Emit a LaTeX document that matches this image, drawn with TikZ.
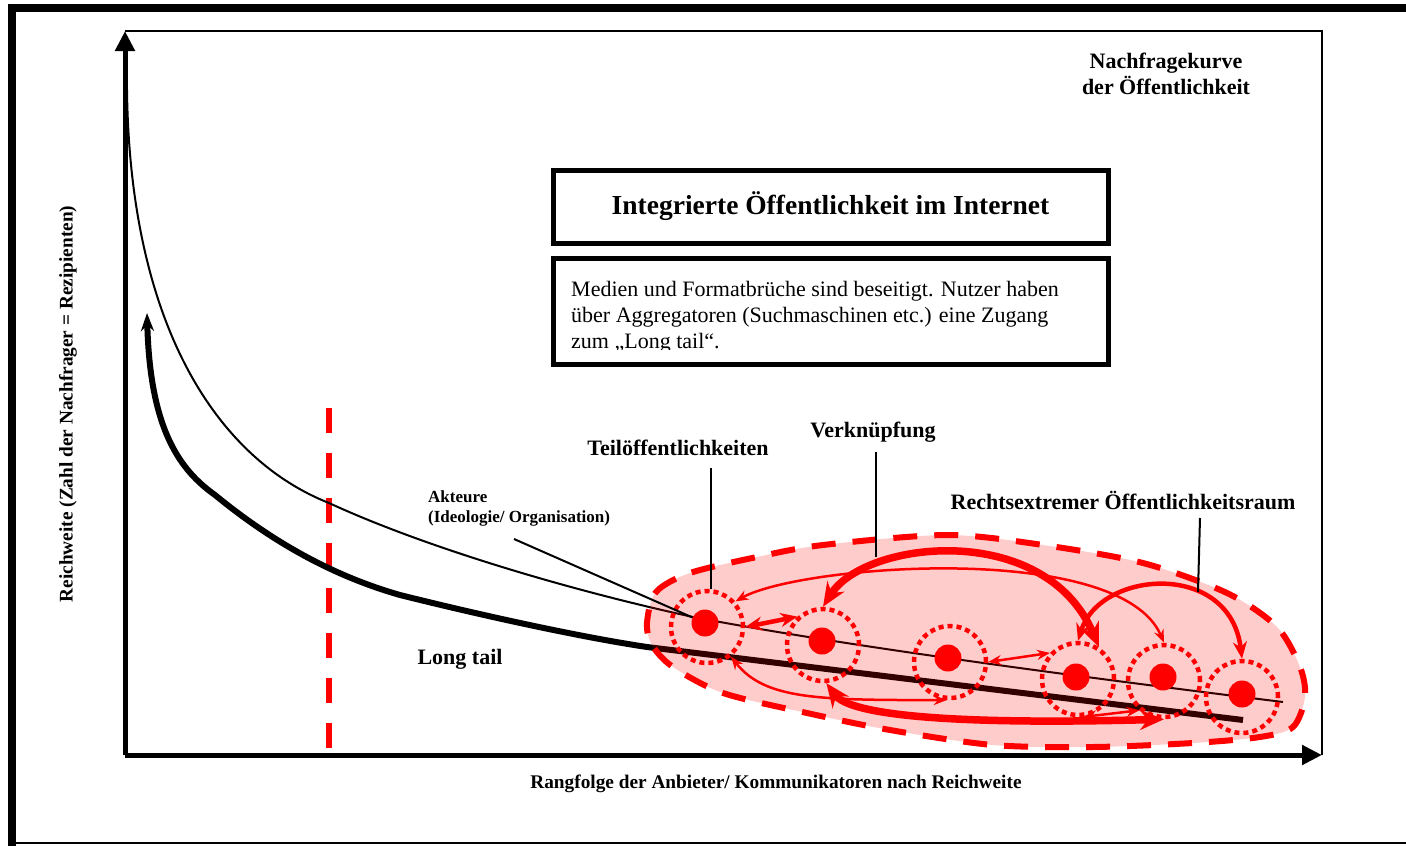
\documentclass[tikz,border=0pt]{standalone}
\usepackage{fontspec}
\setmainfont{Liberation Serif}
\usetikzlibrary{arrows.meta}
\tikzset{
  axisline/.style={line width=5pt, -{Triangle[length=20pt,width=19pt]}},
  plotframe/.style={line width=2pt},
  demand/.style={line width=2pt},
  tailcurve/.style={line width=6pt, {Stealth[length=18pt,width=13pt]}-},
  cutline/.style={red, line width=6.5pt, dash pattern=on 25pt off 20pt},
  blobline/.style={red, line width=6pt, dash pattern=on 24pt off 17pt, fill=red, fill opacity=0.2},
  reddot/.style={circle, fill=red, inner sep=0pt, minimum size=27pt},
  dotring/.style={circle, draw=red, line width=4.5pt, dash pattern=on 5pt off 4pt, inner sep=0pt, minimum size=72pt},
  thinlink/.style={red, line width=2.5pt, {Stealth[length=13pt,width=10pt]}-{Stealth[length=13pt,width=10pt]}},
  midlink/.style={red, line width=4.5pt, {Stealth[length=17pt,width=14pt]}-{Stealth[length=17pt,width=14pt]}},
  thicklink/.style={red, line width=7.5pt, {Stealth[length=24pt,width=20pt]}-{Stealth[length=24pt,width=20pt]}},
  pointer/.style={line width=2pt},
  boxline/.style={line width=5pt},
  boxtitle/.style={font=\fontsize{27.5}{33}\selectfont\bfseries},
  boxtext/.style={font=\fontsize{22}{26}\selectfont, align=left, inner sep=0pt},
  cornertitle/.style={font=\fontsize{22}{26}\selectfont\bfseries, align=center},
  annot/.style={font=\fontsize{22}{26}\selectfont\bfseries},
  smallannot/.style={font=\fontsize{17}{20}\selectfont\bfseries, align=left, inner sep=0pt},
  axlabel/.style={font=\fontsize{19.3}{23}\selectfont\bfseries},
}

\begin{document}
\begin{tikzpicture}[x=1pt, y=-1pt]
		%%%%% START %%%%%
		\useasboundingbox (0,0) rectangle (1406,846);
		
		\draw[line width=8pt] (12,846) -- (12,8) -- (1406,8);
		\draw[line width=2pt] (12,843) -- (1406,843);
		
		\coordinate (O) at (125,755);
		\coordinate (ytop) at (125,31);
		\coordinate (xend) at (1322,755);
		\draw[plotframe] (ytop) -- (xend |- ytop) -- (xend);
		\draw[axisline] (O) -- (ytop);
		\draw[axisline] (O) -- (xend);
		
		\draw[cutline] (329,408) -- (329,750);
		
		% Nachfragekurve and long tail
		\draw[demand] (127,90) .. controls (130,330) and (220,460) .. (329,503)
			.. controls (420,545) and (560,588) .. (693,617)
			.. controls (820,641) and (1000,667) .. (1283,702);
		\draw[tailcurve] (147,313) .. controls (150,430) and (180,470) .. (215,495)
			.. controls (270,540) and (330,575) .. (400,595)
			.. controls (480,615) and (580,637) .. (647,647) -- (1243,720);
		
		\draw[blobline] plot[smooth cycle] coordinates {(647,623) (656,592) (690,573) (757,557) (823,545) (947,535) (1043,545) (1143,563) (1227,593) (1277,627) (1300,667) (1305,697) (1293,727) (1260,737) (1193,743) (1093,747) (993,745) (890,730) (807,713) (723,693) (673,667) (652,645)};
		
		\node[dotring] (r1) at (707,627) {};
		\node[dotring] (r2) at (823,645) {};
		\node[dotring] (r3) at (950,662) {};
		\node[dotring] (r4) at (1078,679) {};
		\node[dotring] (r5) at (1164,681) {};
		\node[dotring] (r6) at (1242,697) {};
		\node[reddot] (d1) at (705,623) {};
		\node[reddot] (d2) at (822,641) {};
		\node[reddot] (d3) at (948,658) {};
		\node[reddot] (d4) at (1076,677) {};
		\node[reddot] (d5) at (1163,677) {};
		\node[reddot] (d6) at (1242,694) {};
		
		% Verknuepfungen
		\draw[thicklink] (r2.north) .. controls (865,540) and (1045,520) .. (r4.57);
		\draw[thinlink] (r1.42) .. controls (800,565) and (1120,540) .. (r5.north);
		\draw[midlink] (r4.north) .. controls (1100,570) and (1230,560) .. (r6.north);
		\draw[midlink] (r1.east) -- (r2.132);
		\draw[thinlink] (r3.east) -- (r4.137);
		\draw[thinlink] (r1.-51) .. controls (765,700) and (820,700) .. (r3.-95);
		\draw[thicklink] (r2.-85) .. controls (850,715) and (950,725) .. (r5.south);
		\draw[thinlink] (r4.-82) -- (r5.-130);
		
		\node[boxtitle, draw, boxline, minimum width=555pt, minimum height=73pt] (title) at (830.5,206.5) {Integrierte Öffentlichkeit im Internet};
		\begin{scope}
			\clip (553,258) rectangle (1108,349);
			\node[boxtext, anchor=north west] (info) at (571,281) {Medien und Formatbrüche sind beseitigt. Nutzer haben\\über Aggregatoren (Suchmaschinen etc.) eine Zugang\\zum „Long tail“.};
		\end{scope}
		\draw[boxline] (553,258) rectangle (1108,364);
		
		\node[cornertitle] (curve) at (1166,74) {Nachfragekurve\\der Öffentlichkeit};
		\node[axlabel, rotate=90] (ylab) at (68,404) {Reichweite (Zahl der Nachfrager = Rezipienten)};
		\node[axlabel] (xlab) at (776,784) {Rangfolge der Anbieter/ Kommunikatoren nach Reichweite};
		\node[smallannot, anchor=north west] (akt) at (428,490) {Akteure\\(Ideologie/ Organisation)};
		\node[annot] (longtail) at (460,659) {Long tail};
		\node[annot] (teil) at (678,448) {Teilöffentlichkeiten};
		\node[annot] (verk) at (873,432) {Verknüpfung};
		\node[annot] (rechts) at (1123,500) {Rechtsextremer Öffentlichkeitsraum};
		
		\coordinate (aktend) at (514,539);
		\draw[pointer] (aktend) -- (d1);
		\coordinate (teilend) at (711,468);
		\draw[pointer] (teilend) -- (teilend |- r1.north);
		\coordinate (verktop) at (876,452);
		\coordinate (verkend) at (876,557);
		\draw[pointer] (verktop) -- (verkend);
		\coordinate (rechtstop) at (1200,518);
		\coordinate (rechtsend) at (1198,592);
		\draw[pointer] (rechtstop) -- (rechtsend);
		
		%%%%% END %%%%%
\end{tikzpicture}
\end{document}
